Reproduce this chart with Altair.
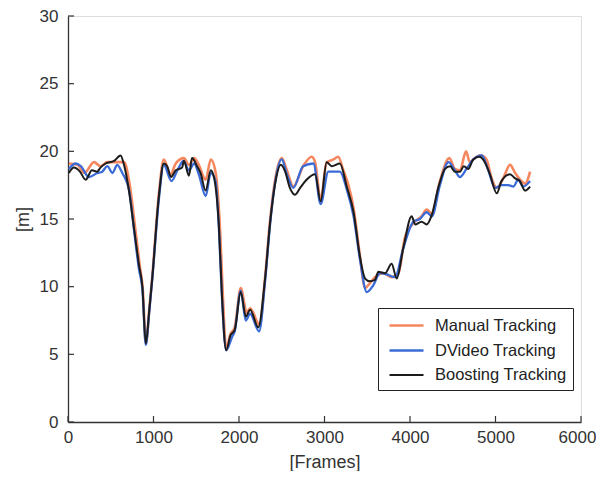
import altair as alt
import pandas as pd

# ---- data ----
manual_frames = [10,110,190,305,380,460,575,655,715,790,840,875,910,950,985,1065,1120,1200,1260,1355,1415,1475,1530,1610,1670,1725,1780,1810,1850,1900,1950,2020,2090,2130,2240,2305,2365,2420,2500,2560,2635,2750,2850,2890,2955,3025,3105,3160,3220,3280,3340,3410,3475,3510,3590,3690,3785,3865,3940,4040,4135,4195,4255,4350,4460,4525,4585,4655,4700,4760,4825,4895,4955,5015,5090,5170,5230,5305,5345,5405]
manual_values = [19.1,19.0,18.4,19.2,18.9,19.2,19.2,19.2,17.8,14.1,11.5,9.8,5.8,8.3,10.7,17.0,19.4,18.3,19.1,19.5,19.0,19.5,19.0,17.9,19.4,18.5,14.0,9.5,5.4,6.5,7.0,9.9,8.1,8.4,7.2,10.7,15.0,17.8,19.5,18.6,17.4,18.9,19.6,19.2,16.4,19.2,19.4,19.6,18.6,17.5,15.8,12.5,9.9,10.1,10.7,11.0,10.7,11.0,13.6,14.7,15.2,15.7,15.4,17.8,19.5,18.7,18.6,20.0,19.2,19.5,19.7,19.4,18.0,17.3,18.0,19.0,18.4,17.8,17.6,18.5]

dvideo_frames = [10,90,150,245,345,400,460,520,575,635,715,772,830,870,910,950,985,1065,1120,1210,1280,1350,1415,1475,1530,1610,1670,1725,1766,1800,1850,1920,1950,2020,2080,2130,2235,2305,2365,2420,2500,2560,2635,2750,2870,2955,3045,3180,3260,3340,3415,3495,3570,3650,3730,3825,3920,4040,4115,4195,4255,4350,4450,4525,4585,4660,4740,4840,4910,4995,5070,5150,5210,5265,5325,5405]
dvideo_values = [18.7,19.1,18.9,18.1,18.4,18.5,18.9,18.4,19.0,18.4,17.1,14.2,11.3,9.8,5.7,8.1,10.5,16.6,19.0,17.8,18.6,19.3,18.6,19.1,18.3,16.7,18.4,17.8,14.2,9.3,5.3,6.3,6.7,9.7,7.5,8.0,6.7,10.4,14.7,17.6,19.4,18.3,17.3,18.9,19.1,16.1,18.5,18.5,17.2,15.2,12.0,9.6,10.1,11.0,10.9,10.7,12.8,14.8,15.0,15.5,15.2,17.5,19.2,18.6,18.1,18.7,19.4,19.7,18.7,17.3,17.5,17.5,17.4,17.9,17.4,17.8]

boosting_frames = [10,70,140,207,280,340,380,440,540,615,655,715,772,830,870,910,950,985,1065,1120,1160,1205,1260,1335,1355,1415,1450,1510,1550,1610,1670,1710,1766,1800,1850,1900,1950,2020,2080,2130,2225,2305,2365,2420,2490,2540,2595,2655,2715,2790,2890,2955,3025,3085,3180,3260,3340,3415,3475,3530,3590,3630,3710,3785,3845,3920,4020,4060,4135,4195,4255,4330,4410,4470,4525,4585,4630,4680,4740,4810,4875,4935,5015,5070,5170,5230,5285,5345,5405]
boosting_values = [18.4,18.8,18.5,17.9,18.6,18.5,18.8,19.1,19.3,19.7,19.0,17.0,14.3,11.6,10.0,5.8,8.2,10.6,16.8,19.1,18.9,18.1,18.6,18.8,19.3,18.2,19.5,18.9,18.4,17.1,18.6,18.0,14.3,9.4,5.3,6.4,6.8,9.6,7.8,8.3,7.0,10.6,14.8,17.5,19.0,18.5,17.3,16.8,17.3,17.9,18.3,16.3,19.2,18.9,19.1,17.4,15.5,12.2,10.6,10.4,10.5,11.1,11.0,11.7,10.6,12.8,15.2,14.6,14.8,14.6,15.3,17.3,18.7,18.9,18.5,18.5,18.9,18.7,19.4,19.6,19.2,18.3,16.9,17.8,18.3,18.0,17.8,17.1,17.4]

series_names = ["Manual Tracking", "DVideo Tracking", "Boosting Tracking"]
series_colors = ["#F5875F", "#3A6BD6", "#1C1C1C"]
series_widths = [2.6, 2.0, 1.8]

x_ticks = [0, 1000, 2000, 3000, 4000, 5000, 6000]
y_ticks = [0, 5, 10, 15, 20, 25, 30]

rows = []
for name, fr, vals in zip(series_names,
                          [manual_frames, dvideo_frames, boosting_frames],
                          [manual_values, dvideo_values, boosting_values]):
    for f, v in zip(fr, vals):
        rows.append({"series": name, "frame": f, "value": v})
df = pd.DataFrame(rows)

FONT = "Liberation Sans"
TXT = "#333333"
NBSP = "\u00a0"

xscale = alt.Scale(domain=[0, 6000], nice=False, zero=False)
yscale = alt.Scale(domain=[0, 30], nice=False, zero=False)

x_axis = alt.Axis(values=x_ticks, format="d", tickSize=0, labelPadding=7, grid=False,
                  title="[Frames]", titlePadding=8, labelFontSize=17, titleFontSize=18,
                  labelFont=FONT, titleFont=FONT, labelColor=TXT, titleColor=TXT,
                  titleFontWeight="normal", domainColor="#333333", domainWidth=1.3,
                  labelFlush=False,
                  labelOffset={"condition": {"test": "datum.value == 6000", "value": -4},
                               "value": 0})
y_axis = alt.Axis(values=y_ticks, format="d", tickSize=0, labelPadding=10, grid=False,
                  title="[m]", titlePadding=7, labelFontSize=17, titleFontSize=18,
                  labelFont=FONT, titleFont=FONT, labelColor=TXT, titleColor=TXT,
                  titleFontWeight="normal", domainColor="#333333", domainWidth=1.3)

lines = alt.Chart(df).mark_line(interpolate="monotone").encode(
    x=alt.X("frame:Q", scale=xscale, axis=x_axis),
    y=alt.Y("value:Q", scale=yscale, axis=y_axis),
    color=alt.Color("series:N",
                    scale=alt.Scale(domain=series_names, range=series_colors),
                    sort=series_names,
                    legend=alt.Legend(title=None, orient="none", legendX=310, legendY=292,
                                      strokeColor="#222222", fillColor="white",
                                      padding=6, symbolType="M-1.7,0H1.7", symbolSize=400,
                                      symbolOffset=11, symbolStrokeWidth=2,
                                      labelFontSize=16.5, labelFont=FONT,
                                      labelColor="#222222", labelOffset=17, rowPadding=5,
                                      labelExpr="datum.label + '" + NBSP * 4 + "'")),
    strokeWidth=alt.StrokeWidth("series:N",
                                scale=alt.Scale(domain=series_names, range=series_widths),
                                legend=None),
    detail="series:N",
)

xt = pd.DataFrame({"v": x_ticks})
yt = pd.DataFrame({"v": y_ticks})
xtick_marks = alt.Chart(xt).mark_rule(color="#333333", strokeWidth=1.2).encode(
    x=alt.X("v:Q", scale=xscale), y=alt.value(406), y2=alt.value(400))
ytick_marks = alt.Chart(yt).mark_rule(color="#333333", strokeWidth=1.2).encode(
    y=alt.Y("v:Q", scale=yscale), x=alt.value(0), x2=alt.value(6))

chart = alt.layer(lines, xtick_marks, ytick_marks).properties(
    width=513, height=406,
    autosize=alt.AutoSizeParams(type="none"),
    padding={"left": 60, "top": 8, "right": 15, "bottom": 49},
).configure_view(stroke=None).configure(background="white")

chart.save("out.html", embed_options={"renderer": "svg", "actions": False})
